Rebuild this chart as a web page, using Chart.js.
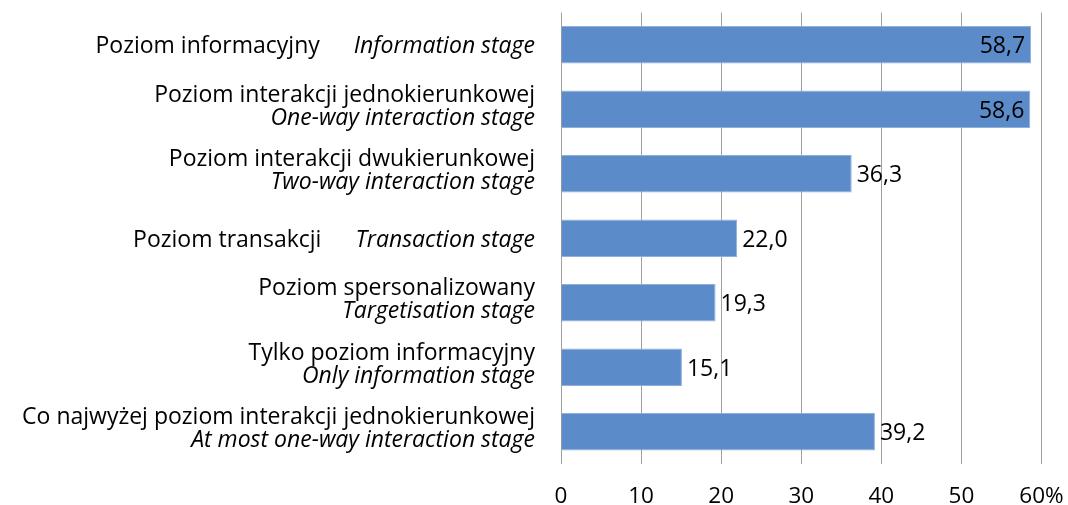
<!DOCTYPE html>
<html>
<head>
<meta charset="utf-8">
<script src="https://cdn.jsdelivr.net/npm/chart.js@4.4.1/dist/chart.umd.min.js"></script>
<style>
html,body{margin:0;padding:0;background:#fff;}
#wrap{width:1068px;height:505px;position:relative;}
</style>
</head>
<body>
<div id="wrap"><canvas id="c"></canvas></div>
<script>
const labelsPL = [
  'Poziom informacyjny',
  'Poziom interakcji jednokierunkowej',
  'Poziom interakcji dwukierunkowej',
  'Poziom transakcji',
  'Poziom spersonalizowany',
  'Tylko poziom informacyjny',
  'Co najwyżej poziom interakcji jednokierunkowej'
];
const labelsEN = [
  'Information stage',
  'One-way interaction stage',
  'Two-way interaction stage',
  'Transaction stage',
  'Targetisation stage',
  'Only information stage',
  'At most one-way interaction stage'
];
const singleLine = [true, false, false, true, false, false, false];
const values = [58.7, 58.6, 36.3, 22.0, 19.3, 15.1, 39.2];
const xTicks = [0, 10, 20, 30, 40, 50, 60];

const FONT = '"Open Sans", "DejaVu Sans", sans-serif';
const FS = 23;
const TICK_FS = 22.5;

const fmt = v => v.toFixed(1).replace('.', ',');

const yLabelPlugin = {
  id: 'yLabels',
  afterDraw(chart) {
    const ctx = chart.ctx;
    const ys = chart.scales.y;
    const rightX = 535;
    ctx.save();
    ctx.fillStyle = '#000';
    ctx.textAlign = 'right';
    ctx.textBaseline = 'alphabetic';
    labelsPL.forEach((pl, i) => {
      const yc = ys.getPixelForValue(i);
      const en = labelsEN[i];
      if (singleLine[i]) {
        ctx.font = 'italic ' + FS + 'px ' + FONT;
        const w = ctx.measureText(en).width;
        ctx.fillText(en, rightX, yc + 8.5);
        ctx.font = FS + 'px ' + FONT;
        ctx.fillText(pl, rightX - w - 34, yc + 8.5);
      } else {
        ctx.font = FS + 'px ' + FONT;
        ctx.fillText(pl, rightX, yc - 7.5);
        ctx.font = 'italic ' + FS + 'px ' + FONT;
        ctx.fillText(en, rightX, yc + 15.5);
      }
    });
    ctx.restore();
  }
};

const valueLabelPlugin = {
  id: 'valueLabels',
  afterDatasetsDraw(chart) {
    const ctx = chart.ctx;
    const meta = chart.getDatasetMeta(0);
    ctx.save();
    ctx.font = FS + 'px ' + FONT;
    ctx.fillStyle = '#000';
    ctx.textBaseline = 'alphabetic';
    meta.data.forEach((bar, i) => {
      const v = values[i];
      if (v > 50) {
        ctx.textAlign = 'right';
        ctx.fillText(fmt(v), bar.x - 6, bar.y + 8.5);
      } else {
        ctx.textAlign = 'left';
        ctx.fillText(fmt(v), bar.x + 5, bar.y + 8.5);
      }
    });
    ctx.restore();
  }
};

new Chart(document.getElementById('c'), {
  type: 'bar',
  data: {
    labels: labelsPL,
    datasets: [{
      data: values,
      backgroundColor: '#5B8BC8',
      borderColor: '#8DB0DC',
      borderWidth: 1,
      categoryPercentage: 1,
      barPercentage: 0.585
    }]
  },
  options: {
    indexAxis: 'y',
    responsive: true,
    maintainAspectRatio: false,
    animation: false,
    events: [],
    layout: { padding: { left: 561, right: 26.5, top: 12.5, bottom: 0 } },
    plugins: { legend: { display: false }, tooltip: { enabled: false } },
    scales: {
      x: {
        min: 0, max: 60,
        afterBuildTicks(s) { s.ticks = xTicks.map(v => ({ value: v })); },
        afterFit(s) { s.height = 41; s.paddingLeft = 0; s.paddingRight = 0; },
        grid: { color: '#A0A0A0', lineWidth: 1, drawTicks: false },
        border: { display: false },
        ticks: {
          color: '#000',
          padding: 19,
          font: { family: FONT, size: TICK_FS },
          maxRotation: 0,
          callback: (v) => v === 60 ? '60%' : String(v)
        }
      },
      y: {
        ticks: { display: false },
        grid: { display: false },
        border: { display: false },
        afterFit(s) { s.width = 0; }
      }
    }
  },
  plugins: [yLabelPlugin, valueLabelPlugin]
});
</script>
</body>
</html>
